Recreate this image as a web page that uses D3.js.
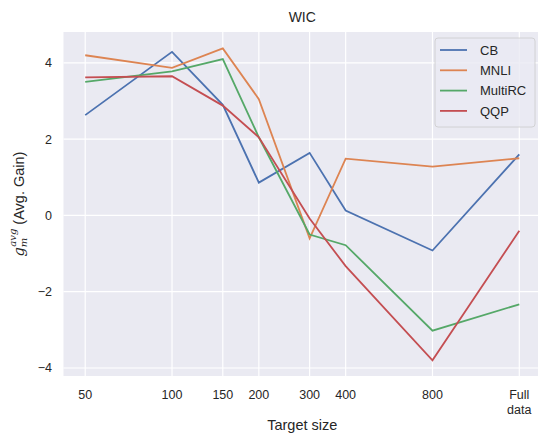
<!DOCTYPE html>
<html>
<head>
<meta charset="utf-8">
<script src="https://cdn.jsdelivr.net/npm/d3@7"></script>
<style>
  body { margin: 0; background: #fff; }
  text { font-family: "Liberation Sans", Arial, sans-serif; fill: #262626; }
</style>
</head>
<body>
<div id="chart"></div>
<script>
// Data
const sizes = [50, 100, 150, 200, 300, 400, 800, 1600];
const tickLabels = ['50', '100', '150', '200', '300', '400', '800', 'Full data'];
const cb = [2.63, 4.29, 2.9, 0.86, 1.64, 0.13, -0.92, 1.6];
const mnli = [4.2, 3.87, 4.38, 3.05, -0.6, 1.49, 1.28, 1.5];
const multirc = [3.5, 3.78, 4.1, 2.05, -0.5, -0.78, -3.02, -2.33];
const qqp = [3.62, 3.65, 2.88, 2.05, -0.08, -1.33, -3.8, -0.4];
const seriesNames = ['CB', 'MNLI', 'MultiRC', 'QQP'];
const seriesColors = ['#4C72B0', '#DD8452', '#55A868', '#C44E52'];
const series = [cb, mnli, multirc, qqp];

const W = 538, H = 434;
const plot = {left: 63.5, right: 541, top: 32, bottom: 376};

const svg = d3.select('#chart').append('svg')
    .attr('width', W).attr('height', H);

const x = d3.scaleLog()
    .domain([50 / Math.pow(2, 0.25), 1600 * Math.pow(2, 0.25)])
    .range([plot.left, plot.right]);
const y = d3.scaleLinear()
    .domain([-4.21, 4.81])
    .range([plot.bottom, plot.top]);

// background
svg.append('rect')
    .attr('x', plot.left).attr('y', plot.top)
    .attr('width', plot.right - plot.left).attr('height', plot.bottom - plot.top)
    .attr('fill', '#EAEAF2');

// grid
const yTicks = [-4, -2, 0, 2, 4];
svg.append('g').selectAll('line').data(sizes).join('line')
    .attr('x1', d => x(d)).attr('x2', d => x(d))
    .attr('y1', plot.top).attr('y2', plot.bottom)
    .attr('stroke', '#fff').attr('stroke-width', 1.2);
svg.append('g').selectAll('line').data(yTicks).join('line')
    .attr('x1', plot.left).attr('x2', plot.right)
    .attr('y1', d => y(d)).attr('y2', d => y(d))
    .attr('stroke', '#fff').attr('stroke-width', 1.2);

// x tick labels
const xl = svg.append('g').selectAll('text').data(sizes).join('text')
    .attr('x', d => x(d)).attr('y', 399)
    .attr('text-anchor', 'middle')
    .style('font-size', '12.5px');
xl.each(function(d, i) {
    const parts = tickLabels[i].split(' ');
    const t = d3.select(this);
    parts.forEach((p, j) => {
        t.append('tspan').attr('x', x(d)).attr('dy', j === 0 ? 0 : 14.5).text(p);
    });
});

// y tick labels
svg.append('g').selectAll('text').data(yTicks).join('text')
    .attr('x', 52).attr('y', d => y(d) + 4.5)
    .attr('text-anchor', 'end')
    .style('font-size', '12.5px')
    .text(d => d < 0 ? '\u2212' + Math.abs(d) : d);

// lines
const line = d3.line()
    .x((d, i) => x(sizes[i]))
    .y(d => y(d));
svg.append('g').selectAll('path').data(series).join('path')
    .attr('d', line)
    .attr('fill', 'none')
    .attr('stroke', (d, i) => seriesColors[i])
    .attr('stroke-width', 1.8);

// title and axis labels
svg.append('text')
    .attr('x', (plot.left + plot.right) / 2).attr('y', 22)
    .attr('text-anchor', 'middle').style('font-size', '14px')
    .text('WIC');
svg.append('text')
    .attr('x', (plot.left + plot.right) / 2).attr('y', 430)
    .attr('text-anchor', 'middle').style('font-size', '14.5px')
    .text('Target size');

const yl = svg.append('text')
    .attr('transform', `translate(24,${(plot.top + plot.bottom) / 2}) rotate(-90)`)
    .attr('text-anchor', 'middle').style('font-size', '14.5px');
yl.append('tspan').style('font-family', '"DejaVu Serif", serif').style('font-style', 'italic').text('g');
yl.append('tspan').attr('dy', 3).style('font-size', '10px').style('font-family', '"DejaVu Serif", serif').style('font-style', 'italic').text('m');
yl.append('tspan').attr('dy', -11).attr('dx', -9).style('font-size', '10px').style('font-family', '"DejaVu Serif", serif').style('font-style', 'italic').text('avg');
yl.append('tspan').attr('dy', 8).text(' (Avg. Gain)');

// legend
const lg = svg.append('g');
lg.append('rect')
    .attr('x', 435).attr('y', 38).attr('width', 100).attr('height', 89)
    .attr('rx', 3)
    .attr('fill', '#EAEAF2').attr('fill-opacity', 0.8)
    .attr('stroke', '#CCCCCC').attr('stroke-width', 0.8);
const rows = lg.selectAll('g').data(seriesNames).join('g')
    .attr('transform', (d, i) => `translate(0,${50 + i * 20.3})`);
rows.append('line')
    .attr('x1', 440).attr('x2', 467)
    .attr('stroke', (d, i) => seriesColors[i]).attr('stroke-width', 1.8);
rows.append('text')
    .attr('x', 480).attr('y', 4.8)
    .style('font-size', '13px')
    .text(d => d);
</script>
</body>
</html>
